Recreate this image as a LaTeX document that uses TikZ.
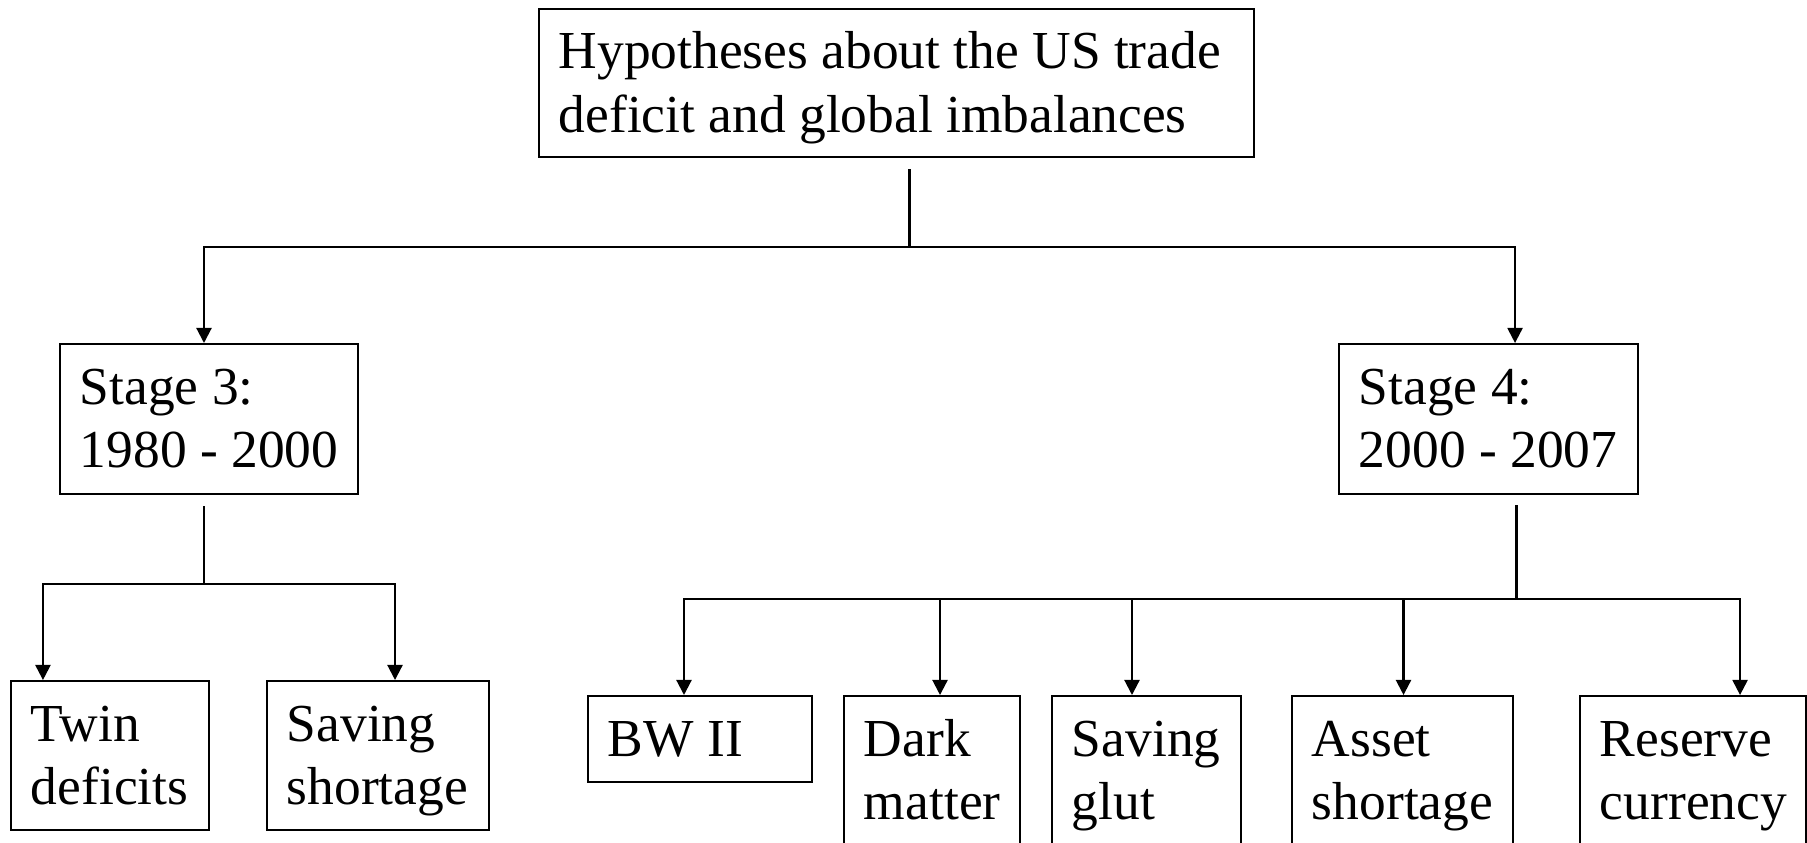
\documentclass[tikz,border=0pt]{standalone}
\usepackage{fontspec}
\setmainfont{Liberation Serif}
\usetikzlibrary{arrows.meta}
\hyphenpenalty=10000
\exhyphenpenalty=10000
\tikzset{
	box/.style={rectangle, draw, line width=0.55pt, inner xsep=0.2cm, inner ysep=0pt, anchor=north, align=flush left, text height=0.6cm, font=\fontsize{15.2}{18}\selectfont},
	conn/.style={line width=0.85pt},
	arr/.style={line width=0.6pt, -{Triangle[width=0.15cm, length=0.15cm]}}
}
\begin{document}
\begin{tikzpicture}[x=0.01cm, y=-0.01cm]
		\useasboundingbox (0,0) rectangle (1807,843);
		\node at (896.5,8) [box, text width=6.75cm, text depth=0.88cm] (hyp) {Hypotheses about the US trade\\deficit and global imbalances};
		\node at (209,343) [box, text width=2.58cm, text depth=0.9cm] (s3) {Stage 3:\\\mbox{1980 - 2000}};
		\node at (1488.5,343) [box, text width=2.59cm, text depth=0.9cm] (s4) {Stage 4:\\\mbox{2000 - 2007}};
		\node at (110,680) [box, text width=1.58cm, text depth=0.89cm] (twin) {Twin\\deficits};
		\node at (378,680) [box, text width=1.82cm, text depth=0.89cm] (short) {Saving\\shortage};
		\node at (700,695) [box, text width=1.84cm, text depth=0.26cm] (bw) {BW II};
		\node at (932,695) [box, text width=1.36cm, text depth=0.9cm] (dark) {Dark\\matter};
		\node at (1146.5,695) [box, text width=1.49cm, text depth=0.9cm] (glut) {Saving\\glut};
		\node at (1402.5,695) [box, text width=1.81cm, text depth=0.9cm] (asset) {Asset\\shortage};
		\node at (1693,695) [box, text width=1.86cm, text depth=0.9cm] (reserve) {Reserve\\currency};
		% first split
		\coordinate (bus1) at (909,247);
		\draw[conn] ([shift={(12.5,11)}]hyp.south) -- (bus1);
		\draw[arr] (bus1) -| ([xshift=-0.05cm]s3.north);
		\draw[arr] (bus1) -| ([xshift=0.265cm]s4.north);
		% stage 3
		\coordinate (bus2) at (204,584);
		\draw[conn] ([shift={(-5,11)}]s3.south) -- (bus2);
		\draw[arr] (bus2) -| ([xshift=-0.67cm]twin.north);
		\draw[arr] (bus2) -| ([xshift=0.17cm]short.north);
		% stage 4
		\coordinate (bus3) at (1516,599);
		\draw[conn] ([shift={(27.5,10)}]s4.south) -- (bus3);
		\foreach \n/\dx in {bw/-0.16cm, dark/0.08cm, glut/-0.145cm, asset/0.01cm, reserve/0.47cm}
			\draw[arr] (bus3) -| ([xshift=\dx]\n.north);
\end{tikzpicture}
\end{document}
